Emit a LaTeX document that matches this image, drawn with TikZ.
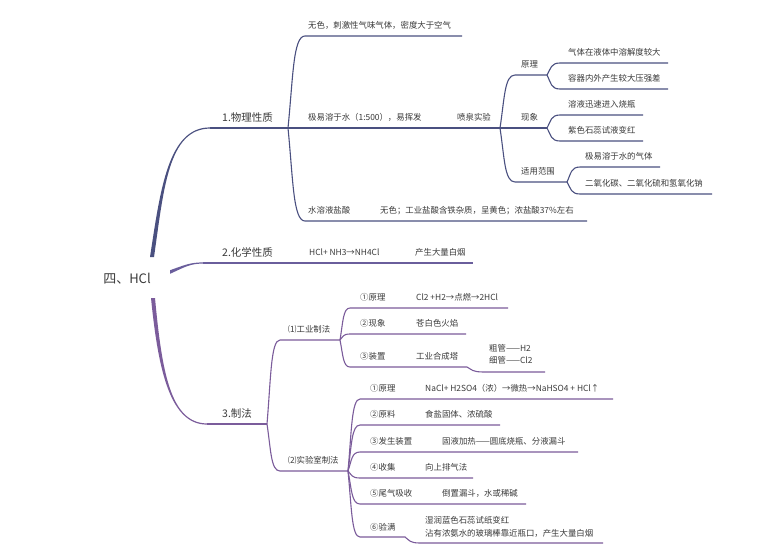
\documentclass[tikz,border=0pt]{standalone}
\usepackage{fontspec}
\setmainfont{Noto Sans CJK SC}
\usetikzlibrary{calc}

\definecolor{navy}{HTML}{4A5080}
\definecolor{plum}{HTML}{6A5E9C}
\definecolor{grape}{HTML}{7B5C9B}
\definecolor{ink}{HTML}{3A3A3A}

\tikzset{
	wire/.style={line width=1.1pt},
	leaf/.style={anchor=base west,inner sep=0pt,text=ink,font=\fontsize{8.4}{10}\selectfont},
	head/.style={leaf,font=\fontsize{10.5}{12}\selectfont},
	twig/.style={to path={let \p1=(\tikztostart), \p2=(\tikztotarget) in
		.. controls ({\x1+0.3*(\x2-\x1)},{\y1+0.55*(\y2-\y1)}) and ({\x1+0.3*(\x2-\x1)},\y2) .. (\tikztotarget)}}
}

\begin{document}
\begin{tikzpicture}[x=1pt,y=-1pt]
	\useasboundingbox [fill=white] (0,0) rectangle (780,557);

	\node [text=ink,font=\fontsize{13}{15}\selectfont,inner sep=0pt] (hcl) at (127,279) {四、HCl};
	\coordinate (r1) at (152,257);
	\coordinate (r2) at (170,272);
	\coordinate (r3) at (153,298);

	\coordinate (s1) at (210,128);
	\coordinate (s1j) at (288,128);
	\coordinate (s2) at (203,263);
	\coordinate (s2e) at (473,263);
	\coordinate (s3) at (207,424);
	\coordinate (s3j) at (267,424);

	\fill [navy] ($(r1)+(-2,0)$) .. controls (160.3,190) and (168,127.3) .. ($(s1)+(0,-0.6)$)
		-- ($(s1)+(0,0.6)$) .. controls (168,128.7) and (163.7,190) .. ($(r1)+(2,0)$) -- cycle;
	\draw [wire,navy] (s1) -- (s1j);
	\fill [plum] ($(r2)+(0,-1.8)$) .. controls (185,265) and (190,262.4) .. ($(s2)+(0,-0.6)$)
		-- ($(s2)+(0,0.6)$) .. controls (190,263.6) and (185,267) .. ($(r2)+(0,1.8)$) -- cycle;
	\draw [wire,plum] (s2) -- (s2e);
	\fill [grape] ($(r3)+(-2,0)$) .. controls (158.2,370) and (170,424.7) .. ($(s3)+(0,0.6)$)
		-- ($(s3)+(0,-0.6)$) .. controls (170,423.3) and (161.8,370) .. ($(r3)+(2,0)$) -- cycle;
	\draw [wire,grape] (s3) -- (s3j);

	\node [head] (phys) at (222,121.5) {1.物理性质};
	\node [head] (chem) at (222,256.5) {2.化学性质};
	\node [head] (make) at (222,417.5) {3.制法};

	\coordinate (p1) at (305,36);
	\coordinate (p1e) at (462,36);
	\coordinate (p2j) at (500,128);
	\coordinate (p3) at (305,221);
	\coordinate (p3e) at (587,221);
	\draw [wire,navy] (s1j) to [twig] (p1) -- (p1e);
	\draw [wire,navy] (s1j) -- (p2j);
	\draw [wire,navy] (s1j) to [twig] (p3) -- (p3e);
	\node [leaf] (look) at (308,28) {无色，刺激性气味气体，密度大于空气};
	\node [leaf] (solu) at (308,120) {极易溶于水（1:500），易挥发};
	\node [leaf] (fount) at (457,120) {喷泉实验};
	\node [leaf] (acid) at (308,213) {水溶液盐酸};
	\node [leaf] (acidx) at (380,213) {无色；工业盐酸含铁杂质，呈黄色；浓盐酸37\%左右};

	\coordinate (q1) at (515,75);
	\coordinate (q1j) at (547,75);
	\coordinate (q2j) at (547,128);
	\coordinate (q3) at (515,182);
	\coordinate (q3j) at (567,182);
	\draw [wire,navy] (p2j) to [twig] (q1) -- (q1j);
	\draw [wire,navy] (p2j) -- (q2j);
	\draw [wire,navy] (p2j) to [twig] (q3) -- (q3j);
	\node [leaf] (why) at (521,67) {原理};
	\node [leaf] (seen) at (521,120) {现象};
	\node [leaf] (range) at (521,174) {适用范围};

	\coordinate (c1) at (560,63);
	\coordinate (c1e) at (668,63);
	\coordinate (c2) at (560,89);
	\coordinate (c2e) at (668,89);
	\coordinate (c3) at (560,115);
	\coordinate (c3e) at (643,115);
	\coordinate (c4) at (560,141);
	\coordinate (c4e) at (643,141);
	\coordinate (c5) at (580,167);
	\coordinate (c5e) at (660,167);
	\coordinate (c6) at (580,194);
	\coordinate (c6e) at (712,194);
	\draw [wire,navy] (q1j) to [twig] (c1) -- (c1e);
	\draw [wire,navy] (q1j) to [twig] (c2) -- (c2e);
	\draw [wire,navy] (q2j) to [twig] (c3) -- (c3e);
	\draw [wire,navy] (q2j) to [twig] (c4) -- (c4e);
	\draw [wire,navy] (q3j) to [twig] (c5) -- (c5e);
	\draw [wire,navy] (q3j) to [twig] (c6) -- (c6e);
	\node [leaf] (gas) at (568,55) {气体在液体中溶解度较大};
	\node [leaf] (press) at (568,81) {容器内外产生较大压强差};
	\node [leaf] (rush) at (568,107) {溶液迅速进入烧瓶};
	\node [leaf] (red) at (568,133) {紫色石蕊试液变红};
	\node [leaf] (easy) at (585,159) {极易溶于水的气体};
	\node [leaf] (list) at (585,186) {二氧化碳、二氧化硫和氢氧化钠};

	\node [leaf] (react) at (309,255.5) {HCl+ NH3→NH4Cl};
	\node [leaf] (smoke) at (415,255.5) {产生大量白烟};

	\coordinate (m1) at (280,340);
	\coordinate (m1j) at (340,340);
	\coordinate (m2) at (280,471);
	\coordinate (m2j) at (348,471);
	\draw [wire,grape] (s3j) to [twig] (m1) -- (m1j);
	\draw [wire,grape] (s3j) to [twig] (m2) -- (m2j);
	\node [leaf] (works) at (288,332.5) {⑴工业制法};
	\node [leaf] (lab) at (288,463.5) {⑵实验室制法};

	\coordinate (e1) at (350,308);
	\coordinate (e1e) at (508,308);
	\coordinate (e2) at (350,334);
	\coordinate (e2e) at (466,334);
	\coordinate (e3) at (350,367);
	\coordinate (e3j) at (467,367);
	\coordinate (e4) at (484,372);
	\coordinate (e4e) at (545,372);
	\draw [wire,grape] (m1j) to [twig] (e1) -- (e1e);
	\draw [wire,grape] (m1j) to [twig] (e2) -- (e2e);
	\draw [wire,grape] (m1j) to [twig] (e3) -- (e3j) to [twig] (e4) -- (e4e);
	\node [leaf] (base1) at (360,300) {①原理};
	\node [leaf] (eq1) at (416,300) {Cl2 +H2→点燃→2HCl};
	\node [leaf] (see1) at (360,326) {②现象};
	\node [leaf] (flame) at (416,326) {苍白色火焰};
	\node [leaf] (kit1) at (360,359) {③装置};
	\node [leaf] (tower) at (416,359) {工业合成塔};
	\node [leaf] (thick) at (489,351) {粗管——H2};
	\node [leaf] (thin) at (489,363.5) {细管——Cl2};

	\coordinate (f1) at (360,399);
	\coordinate (f1e) at (613,399);
	\coordinate (f2) at (360,425);
	\coordinate (f2e) at (500,425);
	\coordinate (f3) at (360,452);
	\coordinate (f3e) at (578,452);
	\coordinate (f4) at (360,478);
	\coordinate (f4e) at (473,478);
	\coordinate (f5) at (360,504);
	\coordinate (f5e) at (526,504);
	\coordinate (f6) at (360,537);
	\coordinate (f6j) at (405,537);
	\coordinate (f7) at (420,543);
	\coordinate (f7e) at (603,543);
	\draw [wire,grape] (m2j) to [twig] (f1) -- (f1e);
	\draw [wire,grape] (m2j) to [twig] (f2) -- (f2e);
	\draw [wire,grape] (m2j) to [twig] (f3) -- (f3e);
	\draw [wire,grape] (m2j) to [twig] (f4) -- (f4e);
	\draw [wire,grape] (m2j) to [twig] (f5) -- (f5e);
	\draw [wire,grape] (m2j) to [twig] (f6) -- (f6j) to [twig] (f7) -- (f7e);
	\node [leaf] (base2) at (370,391) {①原理};
	\node [leaf] (eq2) at (425,391) {NaCl+ H2SO4（浓）→微热→NaHSO4 + HCl↑};
	\node [leaf] (stuff) at (370,417) {②原料};
	\node [leaf] (salt) at (425,417) {食盐固体、浓硫酸};
	\node [leaf] (kit2) at (370,444) {③发生装置};
	\node [leaf] (flask) at (442,444) {固液加热——圆底烧瓶、分液漏斗};
	\node [leaf] (catch) at (370,470) {④收集};
	\node [leaf] (upair) at (425,470) {向上排气法};
	\node [leaf] (tail) at (370,496) {⑤尾气吸收};
	\node [leaf] (funnel) at (442,496) {倒置漏斗，水或稀碱};
	\node [leaf] (full) at (370,530) {⑥验满};
	\node [leaf] (paper) at (425,523) {湿润蓝色石蕊试纸变红};
	\node [leaf] (rod) at (425,536.5) {沾有浓氨水的玻璃棒靠近瓶口，产生大量白烟};
\end{tikzpicture}
\end{document}
